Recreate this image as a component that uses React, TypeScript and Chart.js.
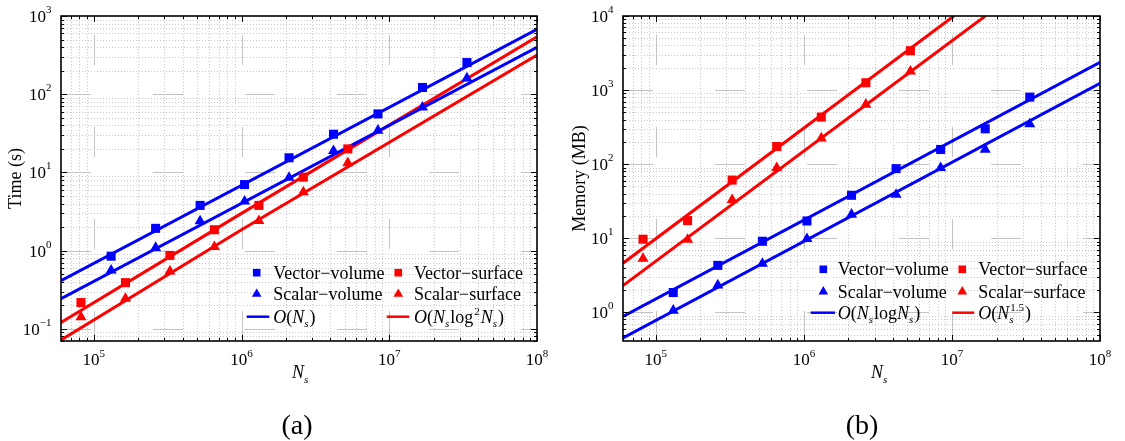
import React, { useEffect, useRef } from 'react';
import { Chart, registerables } from 'chart.js';
Chart.register(...registerables);

// ---------- data ----------
const xVolume = [131072, 262144, 524288, 1048576, 2097152, 4194304, 8388608, 16777216, 33554432];
const xSurface = [81920, 163840, 327680, 655360, 1310720, 2621440, 5242880];

const timeVectorVolume = [0.85, 1.93, 3.79, 7.0, 15.4, 30.8, 56, 122, 254];
const timeScalarVolume = [0.56, 1.09, 2.39, 4.27, 8.6, 18.9, 34.4, 68, 160];
const timeVectorSurface = [0.217, 0.39, 0.87, 1.85, 3.79, 8.7, 20];
const timeScalarSurface = [0.142, 0.244, 0.545, 1.12, 2.41, 5.6, 13.2];

const memVectorVolume = [1.85, 4.3, 9.1, 17.1, 38, 87, 158, 300, 804];
const memScalarVolume = [1.06, 2.32, 4.55, 9.8, 20.9, 38.9, 89, 158, 347];
const memVectorSurface = [9.7, 17.3, 61, 173, 432, 1256, 3400];
const memScalarSurface = [5.3, 9.6, 33, 89, 224, 640, 1786];

// fitted trend lines, read at the plot edges
const timeFitVolumeX = [6e4, 1e8];
const timeFitVectorVolume = [0.413, 676];
const timeFitScalarVolume = [0.243, 398];
const timeFitSurfaceX = [6e4, 1e6, 1e8];
const timeFitVectorSurface = [0.121, 3.0, 544];
const timeFitScalarSurface = [0.072, 1.85, 318];

const memFitVolumeX = [6e4, 1e8];
const memFitVectorVolume = [0.88, 2366];
const memFitScalarVolume = [0.45, 1230];
const memFitVectorSurfaceX = [6e4, 1.03e7];
const memFitVectorSurface = [4.6, 1e4];
const memFitScalarSurfaceX = [6e4, 1.68e7];
const memFitScalarSurface = [2.3, 1e4];

// tick labels (exponents of ten)
const xTickExps = [5, 6, 7, 8];
const timeTickExps = [-1, 0, 1, 2, 3];
const memTickExps = [0, 1, 2, 3, 4];

const X_MIN = 6e4;
const X_MAX = 1e8;

const FONT = '"Liberation Serif", "Times New Roman", serif';
const BLUE = '#0000ff';
const RED = '#ff0000';

type Seg = { t: string; it?: boolean; sub?: string; sup?: string };

function drawRich(ctx: CanvasRenderingContext2D, segs: Seg[], x: number, y: number, size: number) {
  let cx = x;
  ctx.textAlign = 'left';
  ctx.textBaseline = 'alphabetic';
  const small = Math.round(size * 0.62);
  for (const s of segs) {
    ctx.font = `${s.it ? 'italic ' : ''}${size}px ${FONT}`;
    ctx.fillText(s.t, cx, y);
    cx += ctx.measureText(s.t).width;
    let adv = 0;
    if (s.sub) {
      ctx.font = `italic ${small}px ${FONT}`;
      ctx.fillText(s.sub, cx, y + size * 0.25);
      adv = Math.max(adv, ctx.measureText(s.sub).width);
    }
    if (s.sup) {
      ctx.font = `${small}px ${FONT}`;
      const sx = cx + (s.sub ? 1 : 1);
      ctx.fillText(s.sup, sx, y - size * 0.42);
      adv = Math.max(adv, ctx.measureText(s.sup).width + 1);
    }
    cx += adv + (s.sub || s.sup ? 1 : 0);
  }
  return cx - x;
}

interface LegendItem { kind: 'rect' | 'triangle' | 'line'; color: string; segs: Seg[] }
interface Panel {
  yMin: number;
  yMax: number;
  yExps: number[];
  yTitle: string;
  yTitleX: number;
  xTitleX: number;
  caption: string;
  captionX: number;
  points: { x: number[]; y: number[]; color: string; style: 'rect' | 'triangle' }[];
  fits: { x: number[]; y: number[]; color: string }[];
  legend: LegendItem[][]; // rows x 2 columns
  legendRows: number[];
  legendMarkerX: number[];
  legendTextX: number[];
  legendLineX: [number, number][];
}

function minorValues(min: number, max: number) {
  const out: { v: number; major: boolean }[] = [];
  const e0 = Math.floor(Math.log10(min));
  const e1 = Math.ceil(Math.log10(max));
  for (let e = e0; e <= e1; e++) {
    for (let k = 1; k <= 9; k++) {
      const v = k * Math.pow(10, e);
      if (v >= min * 0.9999 && v <= max * 1.0001) out.push({ v, major: k === 1 });
    }
  }
  return out;
}

function makeDecor(panel: Panel) {
  return {
    id: 'decor',
    beforeDatasetsDraw(chart: any) {
      const { ctx, chartArea: a, scales } = chart;
      const xs = scales.x;
      const ys = scales.y;
      ctx.save();
      ctx.lineWidth = 1;
      // minor dotted grid
      ctx.strokeStyle = 'rgb(200,200,200)';
      ctx.setLineDash([1, 2]);
      for (const t of minorValues(X_MIN, X_MAX)) {
        if (t.major) continue;
        const px = Math.round(xs.getPixelForValue(t.v)) + 0.5;
        if (px <= a.left + 1 || px >= a.right - 1) continue;
        ctx.beginPath();
        ctx.moveTo(px, a.bottom);
        ctx.lineTo(px, a.top);
        ctx.stroke();
      }
      for (const t of minorValues(panel.yMin, panel.yMax)) {
        if (t.major) continue;
        const py = Math.round(ys.getPixelForValue(t.v)) + 0.5;
        if (py <= a.top + 1 || py >= a.bottom - 1) continue;
        ctx.beginPath();
        ctx.moveTo(a.left, py);
        ctx.lineTo(a.right, py);
        ctx.stroke();
      }
      // major dashed grid
      ctx.strokeStyle = 'rgb(195,195,195)';
      ctx.setLineDash([30, 62]);
      for (const e of xTickExps) {
        const px = Math.round(xs.getPixelForValue(Math.pow(10, e))) + 0.5;
        if (px <= a.left + 1 || px >= a.right - 1) continue;
        ctx.beginPath();
        ctx.moveTo(px, a.bottom);
        ctx.lineTo(px, a.top);
        ctx.stroke();
      }
      for (const e of panel.yExps) {
        const py = Math.round(ys.getPixelForValue(Math.pow(10, e))) + 0.5;
        if (py <= a.top + 1 || py >= a.bottom - 1) continue;
        ctx.beginPath();
        ctx.moveTo(a.left, py);
        ctx.lineTo(a.right, py);
        ctx.stroke();
      }
      ctx.restore();
    },
    afterDatasetsDraw(chart: any) {
      const { ctx, chartArea: a, scales } = chart;
      const xs = scales.x;
      const ys = scales.y;
      ctx.save();
      ctx.setLineDash([]);
      ctx.strokeStyle = '#000';
      ctx.fillStyle = '#000';
      ctx.lineWidth = 1;
      // ticks on all four sides
      for (const t of minorValues(X_MIN, X_MAX)) {
        const px = Math.round(xs.getPixelForValue(t.v)) + 0.5;
        const len = t.major ? 6 : 3;
        ctx.beginPath();
        ctx.moveTo(px, a.bottom);
        ctx.lineTo(px, a.bottom - len);
        ctx.moveTo(px, a.top);
        ctx.lineTo(px, a.top + len);
        ctx.stroke();
      }
      for (const t of minorValues(panel.yMin, panel.yMax)) {
        const py = Math.round(ys.getPixelForValue(t.v)) + 0.5;
        const len = t.major ? 6 : 3;
        ctx.beginPath();
        ctx.moveTo(a.left, py);
        ctx.lineTo(a.left + len, py);
        ctx.moveTo(a.right, py);
        ctx.lineTo(a.right - len, py);
        ctx.stroke();
      }
      // frame
      ctx.lineWidth = 1.6;
      ctx.strokeRect(a.left, a.top, a.right - a.left, a.bottom - a.top);

      // x tick labels
      ctx.textBaseline = 'alphabetic';
      ctx.textAlign = 'left';
      for (const e of xTickExps) {
        const px = xs.getPixelForValue(Math.pow(10, e));
        ctx.font = `17px ${FONT}`;
        const w10 = ctx.measureText('10').width;
        ctx.font = `11px ${FONT}`;
        const sup = String(e);
        const ws = ctx.measureText(sup).width;
        const x0 = px - (w10 + ws) / 2;
        ctx.font = `17px ${FONT}`;
        ctx.fillText('10', x0, a.bottom + 24);
        ctx.font = `11px ${FONT}`;
        ctx.fillText(sup, x0 + w10, a.bottom + 16);
      }
      // y tick labels
      for (const e of panel.yExps) {
        const py = ys.getPixelForValue(Math.pow(10, e));
        ctx.font = `17px ${FONT}`;
        const w10 = ctx.measureText('10').width;
        const sup = e < 0 ? '\u2212' + String(-e) : String(e);
        ctx.font = `11px ${FONT}`;
        const ws = ctx.measureText(sup).width;
        const x0 = a.left - 9.5 - (w10 + ws);
        ctx.font = `17px ${FONT}`;
        ctx.fillText('10', x0, py + 6);
        ctx.font = `11px ${FONT}`;
        ctx.fillText(sup, x0 + w10, py - 3);
      }
      // x title
      drawRich(ctx, [{ t: 'N', it: true, sub: 's' }], panel.xTitleX, a.bottom + 37, 18);
      // y title
      ctx.save();
      ctx.translate(panel.yTitleX, (a.top + a.bottom) / 2);
      ctx.rotate(-Math.PI / 2);
      ctx.font = `18px ${FONT}`;
      ctx.textAlign = 'center';
      ctx.textBaseline = 'middle';
      ctx.fillText(panel.yTitle, 0, 0);
      ctx.restore();
      // caption
      ctx.font = `28px ${FONT}`;
      ctx.textAlign = 'center';
      ctx.textBaseline = 'alphabetic';
      ctx.fillText(panel.caption, panel.captionX, 434);

      // legend
      panel.legend.forEach((row, ri) => {
        const ry = panel.legendRows[ri];
        row.forEach((item, ci) => {
          ctx.fillStyle = item.color;
          ctx.strokeStyle = item.color;
          const mx = panel.legendMarkerX[ci];
          if (item.kind === 'rect') {
            ctx.fillRect(mx - 3.8, ry - 3.8, 7.6, 7.6);
          } else if (item.kind === 'triangle') {
            const r = 5.6;
            ctx.beginPath();
            ctx.moveTo(mx, ry - r);
            ctx.lineTo(mx + r * 0.866, ry + r / 2);
            ctx.lineTo(mx - r * 0.866, ry + r / 2);
            ctx.closePath();
            ctx.fill();
          } else {
            const [l0, l1] = panel.legendLineX[ci];
            ctx.lineWidth = 2.5;
            ctx.beginPath();
            ctx.moveTo(l0, ry);
            ctx.lineTo(l1, ry);
            ctx.stroke();
          }
          ctx.fillStyle = '#000';
          drawRich(ctx, item.segs, panel.legendTextX[ci], ry + 6, 18);
        });
      });
      ctx.restore();
    },
  };
}

function buildConfig(panel: Panel): any {
  const datasets: any[] = [];
  panel.points.forEach((p) => {
    datasets.push({
      data: p.x.map((x, i) => ({ x, y: p.y[i] })),
      showLine: false,
      pointStyle: p.style,
      pointRadius: 6.4,
      backgroundColor: p.color,
      borderColor: p.color,
      borderWidth: 0,
      order: 1,
    });
  });
  panel.fits.forEach((f) => {
    datasets.push({
      data: f.x.map((x, i) => ({ x, y: f.y[i] })),
      showLine: true,
      borderColor: f.color,
      borderWidth: 3,
      pointRadius: 0,
      tension: 0,
      fill: false,
      order: 2,
    });
  });
  return {
    type: 'scatter',
    data: { datasets },
    options: {
      responsive: false,
      animation: false,
      devicePixelRatio: 1,
      events: [],
      layout: { padding: { left: 61, right: 25, top: 16, bottom: 100 } },
      scales: {
        x: { type: 'logarithmic', min: X_MIN, max: X_MAX, display: false },
        y: { type: 'logarithmic', min: panel.yMin, max: panel.yMax, display: false },
      },
      plugins: { legend: { display: false }, tooltip: { enabled: false } },
    },
    plugins: [makeDecor(panel)],
  };
}

const N: Seg = { t: 'N', it: true, sub: 's' };

const timePanel: Panel = {
  yMin: 0.07,
  yMax: 1000,
  yExps: timeTickExps,
  yTitle: 'Time (s)',
  yTitleX: 16,
  xTitleX: 292,
  caption: '(a)',
  captionX: 297,
  points: [
    { x: xVolume, y: timeVectorVolume, color: BLUE, style: 'rect' },
    { x: xVolume, y: timeScalarVolume, color: BLUE, style: 'triangle' },
    { x: xSurface, y: timeVectorSurface, color: RED, style: 'rect' },
    { x: xSurface, y: timeScalarSurface, color: RED, style: 'triangle' },
  ],
  fits: [
    { x: timeFitVolumeX, y: timeFitVectorVolume, color: BLUE },
    { x: timeFitVolumeX, y: timeFitScalarVolume, color: BLUE },
    { x: timeFitSurfaceX, y: timeFitVectorSurface, color: RED },
    { x: timeFitSurfaceX, y: timeFitScalarSurface, color: RED },
  ],
  legend: [
    [
      { kind: 'rect', color: BLUE, segs: [{ t: 'Vector\u2212volume' }] },
      { kind: 'rect', color: RED, segs: [{ t: 'Vector\u2212surface' }] },
    ],
    [
      { kind: 'triangle', color: BLUE, segs: [{ t: 'Scalar\u2212volume' }] },
      { kind: 'triangle', color: RED, segs: [{ t: 'Scalar\u2212surface' }] },
    ],
    [
      { kind: 'line', color: BLUE, segs: [{ t: 'O', it: true }, { t: '(' }, N, { t: ')' }] },
      {
        kind: 'line',
        color: RED,
        segs: [{ t: 'O', it: true }, { t: '(' }, N, { t: 'log', sup: '2' }, N, { t: ')' }],
      },
    ],
  ],
  legendRows: [272.7, 294, 316.7],
  legendMarkerX: [256.7, 398.3],
  legendTextX: [273.3, 414],
  legendLineX: [
    [246.7, 269.3],
    [386.7, 409.3],
  ],
};

const memPanel: Panel = {
  yMin: 0.41,
  yMax: 10000,
  yExps: memTickExps,
  yTitle: 'Memory (MB)',
  yTitleX: 18,
  xTitleX: 309,
  caption: '(b)',
  captionX: 300,
  points: [
    { x: xVolume, y: memVectorVolume, color: BLUE, style: 'rect' },
    { x: xVolume, y: memScalarVolume, color: BLUE, style: 'triangle' },
    { x: xSurface, y: memVectorSurface, color: RED, style: 'rect' },
    { x: xSurface, y: memScalarSurface, color: RED, style: 'triangle' },
  ],
  fits: [
    { x: memFitVolumeX, y: memFitVectorVolume, color: BLUE },
    { x: memFitVolumeX, y: memFitScalarVolume, color: BLUE },
    { x: memFitVectorSurfaceX, y: memFitVectorSurface, color: RED },
    { x: memFitScalarSurfaceX, y: memFitScalarSurface, color: RED },
  ],
  legend: [
    [
      { kind: 'rect', color: BLUE, segs: [{ t: 'Vector\u2212volume' }] },
      { kind: 'rect', color: RED, segs: [{ t: 'Vector\u2212surface' }] },
    ],
    [
      { kind: 'triangle', color: BLUE, segs: [{ t: 'Scalar\u2212volume' }] },
      { kind: 'triangle', color: RED, segs: [{ t: 'Scalar\u2212surface' }] },
    ],
    [
      {
        kind: 'line',
        color: BLUE,
        segs: [{ t: 'O', it: true }, { t: '(' }, N, { t: 'log' }, N, { t: ')' }],
      },
      {
        kind: 'line',
        color: RED,
        segs: [{ t: 'O', it: true }, { t: '(' }, { t: 'N', it: true, sub: 's', sup: '1.5' }, { t: ')' }],
      },
    ],
  ],
  legendRows: [269.3, 291.7, 312.7],
  legendMarkerX: [261.3, 400.3],
  legendTextX: [275.7, 416.3],
  legendLineX: [
    [248.7, 273],
    [390.3, 412.3],
  ],
};

export default function App() {
  const leftRef = useRef<HTMLCanvasElement>(null);
  const rightRef = useRef<HTMLCanvasElement>(null);
  useEffect(() => {
    const c1 = new Chart(leftRef.current as HTMLCanvasElement, buildConfig(timePanel));
    const c2 = new Chart(rightRef.current as HTMLCanvasElement, buildConfig(memPanel));
    return () => {
      c1.destroy();
      c2.destroy();
    };
  }, []);
  return (
    <div
      style={{
        position: 'absolute',
        left: 0,
        top: 0,
        width: 1125,
        height: 441,
        background: '#fff',
        overflow: 'hidden',
      }}
    >
      <canvas
        ref={leftRef}
        width={562}
        height={441}
        style={{ position: 'absolute', left: 0, top: 0, width: 562, height: 441 }}
      />
      <canvas
        ref={rightRef}
        width={563}
        height={441}
        style={{ position: 'absolute', left: 562, top: 0, width: 563, height: 441 }}
      />
    </div>
  );
}
